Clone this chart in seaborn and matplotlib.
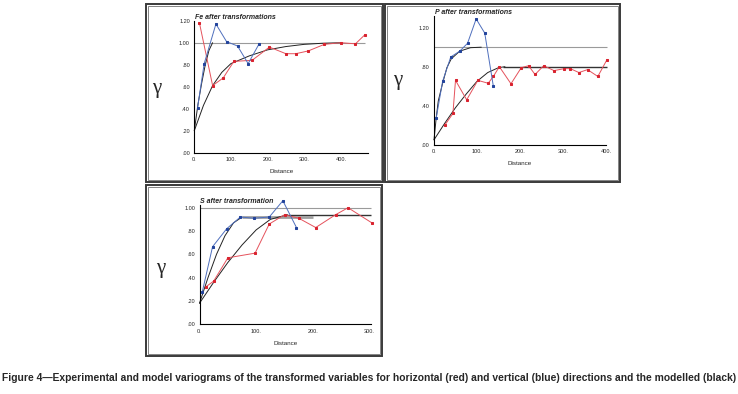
import matplotlib.pyplot as plt
import matplotlib.patches as patches
from matplotlib.ticker import MultipleLocator
import seaborn as sns

# Fe panel: experimental variograms
fe_red_x = [14, 50, 79, 108, 158, 205, 250, 277, 311, 355, 400, 440, 465]
fe_red_y = [1.18, 0.61, 0.68, 0.83, 0.84, 0.96, 0.90, 0.90, 0.925, 0.985, 1.0, 0.99, 1.07]
fe_blue_x = [9, 27, 59, 88, 118, 147, 177]
fe_blue_y = [0.41, 0.81, 1.17, 1.01, 0.97, 0.81, 0.99]
# Fe model curves
fe_hmod_x = [0, 25, 50, 75, 100, 150, 200, 250, 300, 350, 400]
fe_hmod_y = [0.2, 0.43, 0.61, 0.73, 0.81, 0.88, 0.935, 0.965, 0.985, 0.995, 1.0]
fe_vmod_x = [0, 10, 20, 30, 40, 50]
fe_vmod_y = [0.2, 0.44, 0.63, 0.80, 0.93, 1.0]
fe_sills = [(1.0, 0, 467, 'grey')]

# P panel
p_red_x = [25, 44, 50, 76, 102, 126, 138, 152, 179, 203, 220, 235, 255, 279, 303, 317, 337, 357, 381, 402]
p_red_y = [0.20, 0.32, 0.66, 0.46, 0.66, 0.63, 0.70, 0.80, 0.625, 0.79, 0.81, 0.72, 0.81, 0.76, 0.78,
           0.78, 0.74, 0.77, 0.70, 0.87]
p_blue_x = [5, 20, 39, 60, 78, 98, 118, 138]
p_blue_y = [0.27, 0.65, 0.90, 0.96, 1.04, 1.29, 1.145, 0.60]
p_hmod_x = [0, 25, 50, 75, 100, 125, 150, 165]
p_hmod_y = [0.05, 0.22, 0.38, 0.52, 0.65, 0.74, 0.79, 0.80]
p_vmod_x = [0, 5, 10, 20, 30, 40, 60, 85, 110]
p_vmod_y = [0.05, 0.27, 0.45, 0.63, 0.79, 0.88, 0.96, 0.995, 1.0]
p_sills = [(1.0, 0, 402, 'grey'), (0.8, 160, 402, 'dark')]

# S panel
s_red_x = [11, 25, 50, 98, 123, 150, 175, 205, 240, 262, 304]
s_red_y = [0.32, 0.37, 0.57, 0.61, 0.86, 0.94, 0.91, 0.83, 0.94, 1.0, 0.87]
s_blue_x = [5, 23, 48, 72, 96, 123, 147, 171]
s_blue_y = [0.28, 0.665, 0.82, 0.92, 0.91, 0.92, 1.06, 0.83]
s_hmod_x = [0, 25, 50, 75, 100, 125, 155]
s_hmod_y = [0.18, 0.36, 0.53, 0.68, 0.81, 0.90, 0.94]
s_vmod_x = [0, 15, 30, 45, 60, 75]
s_vmod_y = [0.18, 0.40, 0.60, 0.76, 0.87, 0.92]
s_sills = [(1.0, 0, 303, 'grey'), (0.94, 150, 303, 'dark'), (0.92, 75, 200, 'thick')]

caption = ("Figure 4\u2014Experimental and model variograms of the transformed variables for horizontal (red) "
           "and vertical (blue) directions and the modelled (black)")

RED_LINE, RED_MARK = '#e5525c', '#d9232f'
BLUE_LINE, BLUE_MARK = '#4f6fbd', '#23449c'

sns.set_style('white')
plt.rcParams['font.family'] = ['Liberation Sans', 'DejaVu Sans']

W, H = 738, 394
fig = plt.figure(figsize=(W / 100, H / 100), dpi=100)


def px_rect(l, t, r, b):
    return [l / W, 1 - b / H, (r - l) / W, (b - t) / H]


def frame(l, t, r, b):
    for off, lw, col in [(0, 1.4, '#3a3a3a'), (2.2, 0.6, '#707070')]:
        fig.patches.append(patches.Rectangle(((l + off) / W, 1 - (b - off) / H),
                                             (r - l - 2 * off) / W, (b - t - 2 * off) / H,
                                             transform=fig.transFigure, fill=False,
                                             lw=lw, edgecolor=col))


def panel(rect, xmax, ymax, ystep, xticks, title, red, blue, hmod, vmod, sills):
    ax = fig.add_axes(rect)
    ax.set_xlim(0, xmax)
    ax.set_ylim(0, ymax)
    for val, x0, x1, kind in sills:
        if kind == 'grey':
            ax.hlines(val, x0, x1, color='#9a9a9a', lw=0.8, zorder=1, clip_on=False)
        elif kind == 'thick':
            ax.hlines(val, x0, x1, color='#a0a0a0', lw=2.0, zorder=1, clip_on=False)
        else:
            ax.hlines(val, x0, x1, color='#333333', lw=1.0, zorder=1, clip_on=False)
    for mx, my in (hmod, vmod):
        sns.lineplot(x=mx, y=my, ax=ax, color='#222222', lw=0.7, estimator=None, sort=False,
                     zorder=2, clip_on=False)
    sns.lineplot(x=red[0], y=red[1], ax=ax, color=RED_LINE, lw=0.7, estimator=None, sort=False,
                 marker='s', markersize=2.0, markerfacecolor=RED_MARK, markeredgecolor=RED_MARK,
                 zorder=3, clip_on=False)
    sns.lineplot(x=blue[0], y=blue[1], ax=ax, color=BLUE_LINE, lw=0.7, estimator=None, sort=False,
                 marker='s', markersize=2.0, markerfacecolor=BLUE_MARK, markeredgecolor=BLUE_MARK,
                 zorder=3, clip_on=False)
    sns.despine(ax=ax)
    for s in ('left', 'bottom'):
        ax.spines[s].set_linewidth(0.8)
        ax.spines[s].set_color('black')
    ax.set_xticks(xticks)
    ax.set_xticklabels([f'{t}.' for t in xticks])
    yt = [round(i * ystep, 2) for i in range(int(ymax / ystep + 1e-6) + 1)]
    ax.set_yticks(yt)
    ax.set_yticklabels([f'{v:.2f}'.lstrip('0') if v < 1 else f'{v:.2f}' for v in yt])
    ax.xaxis.set_minor_locator(MultipleLocator(20))
    ax.yaxis.set_minor_locator(MultipleLocator(ystep / 5))
    ax.tick_params(which='major', labelsize=4, length=2, width=0.5, pad=1.2, direction='out')
    ax.tick_params(which='minor', length=1.2, width=0.4, direction='out')
    ax.set_xlabel('Distance', fontsize=4.5, labelpad=5)
    ax.set_ylabel('')
    ax.text(0.005, 1.0, title, transform=ax.transAxes, fontsize=5, style='italic',
            fontweight='bold', ha='left', va='bottom')
    return ax


frame(146, 4, 383, 182)
frame(385, 4, 620, 182)
frame(146, 185, 382, 356)

panel(px_rect(194.3, 20.7, 368.3, 152.7), 475, 1.2, 0.2, [0, 100, 200, 300, 400],
      'Fe after transformations', (fe_red_x, fe_red_y), (fe_blue_x, fe_blue_y),
      (fe_hmod_x, fe_hmod_y), (fe_vmod_x, fe_vmod_y), fe_sills)
panel(px_rect(434, 16, 606, 144.7), 400, 1.32, 0.4, [0, 100, 200, 300, 400],
      'P after transformations', (p_red_x, p_red_y), (p_blue_x, p_blue_y),
      (p_hmod_x, p_hmod_y), (p_vmod_x, p_vmod_y), p_sills)
panel(px_rect(199.5, 205.4, 371.3, 324.2), 303, 1.02, 0.2, [0, 100, 200, 300],
      'S after transformation', (s_red_x, s_red_y), (s_blue_x, s_blue_y),
      (s_hmod_x, s_hmod_y), (s_vmod_x, s_vmod_y), s_sills)

for gx, gy in [(157, 88), (398, 80), (161, 268)]:
    fig.text(gx / W, 1 - gy / H, '\u03b3', fontsize=15, family=['Liberation Serif', 'DejaVu Serif'],
             ha='center', va='center')

fig.text(2 / W, 1 - 378 / H, caption, fontsize=7.35, fontweight='bold',
         family=['Liberation Sans Narrow', 'Liberation Sans', 'DejaVu Sans'], ha='left', va='center')

fig.savefig('out.png', dpi=100)
